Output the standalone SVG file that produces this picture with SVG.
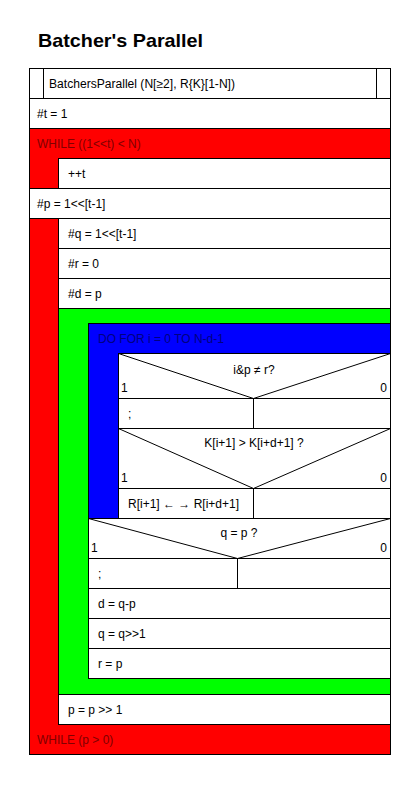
<svg xmlns="http://www.w3.org/2000/svg" width="417" height="786" viewBox="0 0 417 786">
<style>
  .box { fill: #ffffff; stroke: #000000; stroke-width: 1; }
  .red { fill: #ff0000; stroke: #000000; stroke-width: 1; }
  .green { fill: #00ff00; stroke: #000000; stroke-width: 1; }
  .blue { fill: #0000ff; stroke: #000000; stroke-width: 1; }
  .ln { fill: none; stroke: #000000; stroke-width: 1; }
  text { font-family: "Liberation Sans", Arial, sans-serif; font-size: 12px; fill: #000000; }
  .title { font-size: 19px; font-weight: bold; }
  .wtxt { fill: #800000; }
  .btxt { fill: #000080; }
  .mid { text-anchor: middle; }
  .end { text-anchor: end; }
</style>
<rect x="0" y="0" width="417" height="786" fill="#ffffff"/>
<text class="title" x="38" y="47" textLength="165" lengthAdjust="spacingAndGlyphs">Batcher's Parallel</text>

<g id="header">
  <rect class="box" x="29.5" y="68.5" width="361" height="30"/>
  <line class="ln" x1="43.5" y1="68.5" x2="43.5" y2="98.5"/>
  <line class="ln" x1="376.5" y1="68.5" x2="376.5" y2="98.5"/>
  <text x="49" y="88" textLength="186" lengthAdjust="spacingAndGlyphs">BatchersParallel (N[≥2], R{K}[1-N])</text>
</g>

<g id="t_init">
  <rect class="box" x="29.5" y="98.5" width="361" height="30"/>
  <text x="37" y="118">#t = 1</text>
</g>

<g id="while1">
  <rect class="red" x="29.5" y="128.5" width="361" height="60"/>
  <text class="wtxt" x="37" y="148">WHILE ((1&lt;&lt;t) &lt; N)</text>
</g>
<g id="inc_t">
  <rect class="box" x="58.5" y="158.5" width="332" height="30"/>
  <text x="68" y="178">++t</text>
</g>

<g id="p_init">
  <rect class="box" x="29.5" y="188.5" width="361" height="30"/>
  <text x="37" y="208">#p = 1&lt;&lt;[t-1]</text>
</g>

<g id="while2">
  <rect class="red" x="29.5" y="218.5" width="361" height="536"/>
  <text class="wtxt" x="37" y="744">WHILE (p &gt; 0)</text>
</g>
<g id="q_init">
  <rect class="box" x="58.5" y="218.5" width="332" height="30"/>
  <text x="68" y="238">#q = 1&lt;&lt;[t-1]</text>
</g>
<g id="r_init">
  <rect class="box" x="58.5" y="248.5" width="332" height="30"/>
  <text x="68" y="268">#r = 0</text>
</g>
<g id="d_init">
  <rect class="box" x="58.5" y="278.5" width="332" height="30"/>
  <text x="68" y="298">#d = p</text>
</g>

<g id="green_loop">
  <rect class="green" x="58.5" y="308.5" width="332" height="386"/>
</g>

<g id="dofor">
  <rect class="blue" x="88.5" y="323.5" width="302" height="195"/>
  <text class="btxt" x="98" y="343">DO FOR i = 0 TO N-d-1</text>
</g>

<g id="dec_ipr">
  <rect class="box" x="118.5" y="353.5" width="272" height="45"/>
  <polyline class="ln" points="118.5,353.5 253.5,398.5 390.5,353.5"/>
  <text class="mid" x="254" y="374">i&amp;p ≠ r?</text>
  <text x="121" y="392">1</text>
  <text class="end" x="387" y="392">0</text>
</g>
<g id="branch_ipr">
  <rect class="box" x="118.5" y="398.5" width="272" height="30"/>
  <line class="ln" x1="253.5" y1="398.5" x2="253.5" y2="428.5"/>
  <text x="128" y="418">;</text>
</g>

<g id="dec_k">
  <rect class="box" x="118.5" y="428.5" width="272" height="60"/>
  <polyline class="ln" points="118.5,428.5 253.5,488.5 390.5,428.5"/>
  <text class="mid" x="254" y="447">K[i+1] &gt; K[i+d+1] ?</text>
  <text x="121" y="482">1</text>
  <text class="end" x="387" y="482">0</text>
</g>
<g id="branch_k">
  <rect class="box" x="118.5" y="488.5" width="272" height="30"/>
  <line class="ln" x1="253.5" y1="488.5" x2="253.5" y2="518.5"/>
  <text x="128" y="508">R[i+1] ← → R[i+d+1]</text>
</g>

<g id="dec_qp">
  <rect class="box" x="88.5" y="518.5" width="302" height="40"/>
  <polyline class="ln" points="88.5,518.5 237.5,558.5 390.5,518.5"/>
  <text class="mid" x="239" y="537">q = p ?</text>
  <text x="91" y="552">1</text>
  <text class="end" x="387" y="552">0</text>
</g>
<g id="branch_qp">
  <rect class="box" x="88.5" y="558.5" width="302" height="30"/>
  <line class="ln" x1="237.5" y1="558.5" x2="237.5" y2="588.5"/>
  <text x="98" y="578">;</text>
</g>

<g id="d_upd">
  <rect class="box" x="88.5" y="588.5" width="302" height="30"/>
  <text x="98" y="608">d = q-p</text>
</g>
<g id="q_upd">
  <rect class="box" x="88.5" y="618.5" width="302" height="30"/>
  <text x="98" y="638">q = q&gt;&gt;1</text>
</g>
<g id="r_upd">
  <rect class="box" x="88.5" y="648.5" width="302" height="30"/>
  <text x="98" y="668">r = p</text>
</g>

<g id="p_upd">
  <rect class="box" x="58.5" y="694.5" width="332" height="30"/>
  <text x="68" y="714">p = p &gt;&gt; 1</text>
</g>
</svg>
